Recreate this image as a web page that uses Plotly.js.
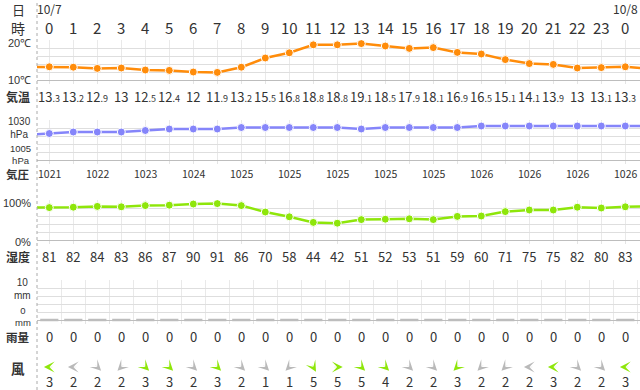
<!DOCTYPE html>
<html><head><meta charset="utf-8">
<script src="https://cdn.plot.ly/plotly-3.0.1.min.js"></script>
<style>html,body{margin:0;padding:0;background:#fff}#chart{width:640px;height:390px}</style>
</head><body><div id="chart"></div>
<script>
// ---- data ----
const dateLabels = ['10/7', '10/8'];
const dateHours = [0, 24];
const hours = [0,1,2,3,4,5,6,7,8,9,10,11,12,13,14,15,16,17,18,19,20,21,22,23,24];
const hourLabels = ['0','1','2','3','4','5','6','7','8','9','10','11','12','13','14','15','16','17','18','19','20','21','22','23','0'];
const edgeHours = [-1, 25];
const temperature = [13.3,13.2,12.9,13,12.5,12.4,12,11.9,13.2,15.5,16.8,18.8,18.8,19.1,18.5,17.9,18.1,16.9,16.5,15.1,14.1,13.9,13,13.1,13.3];
const temperatureEdges = [13.3, 12.8];
const pressure = [1021,1022,1022,1022,1023,1024,1024,1024,1025,1025,1025,1025,1025,1024,1025,1025,1025,1025,1026,1026,1026,1026,1026,1026,1026];
const pressureEdges = [1020, 1026];
const humidity = [81,82,84,83,86,87,90,91,86,70,58,44,42,51,52,53,51,59,60,71,75,75,82,80,83];
const humidityEdges = [81, 84];
const rain = [0,0,0,0,0,0,0,0,0,0,0,0,0,0,0,0,0,0,0,0,0,0,0,0,0];
const windSpeed = [3,2,2,2,3,3,2,3,2,1,1,5,5,5,4,2,2,3,2,2,2,3,2,2,3];
const windDir = [180,180,45,135,45,45,45,45,45,45,135,60,0,45,45,45,45,135,135,135,180,180,45,45,180];

// ---- styling / layout helpers ----
const H = 390, L = 37, PW = 640 - L;
const py = p => (H - p) / H;
const px = p => (p - L) / PW;
const dom = (top, bottom) => [(H - bottom) / H, (H - top) / H];
const FONT = 'Noto Sans CJK JP, Noto Sans, sans-serif';
const FONT_S = 'Liberation Sans, Arial, sans-serif';
const TXT = '#333';
const C_T = '#ff8c0a', C_P = '#8585fa', C_H = '#8ee60a', C_W = '#8ee60a', C_G = '#b9b9b9';

const full = (edges, arr) => [edges[0], ...arr, edges[1]];
const xs = full(edgeHours, hours);

function lineTrace(y, xa, ya, color) {
  return {x: xs, y: y, xaxis: xa, yaxis: ya, mode: 'lines+markers', type: 'scatter',
    line: {color: color, width: 2.5}, marker: {size: 8, color: color, line: {color: '#fff', width: 1}},
    hoverinfo: 'skip'};
}
const traces = [
  lineTrace(full(temperatureEdges, temperature), 'x', 'y', C_T),
  lineTrace(full(pressureEdges, pressure), 'x2', 'y2', C_P),
  lineTrace(full(humidityEdges, humidity), 'x3', 'y3', C_H),
  {x: hours, y: rain, xaxis: 'x4', yaxis: 'y4', mode: 'markers', type: 'scatter', cliponaxis: false,
   marker: {symbol: 'line-ew-open', size: 13, color: '#bdbdbd', line: {color: '#bdbdbd', width: 2.5}}, hoverinfo: 'skip'}
];

const xr = [-0.5125, 24.6125];
function xax(anchor, tick0) {
  return {range: xr, anchor: anchor, showgrid: true, gridcolor: '#e9e9e9', gridwidth: 1,
    tick0: tick0, dtick: 1, ticks: 'outside', ticklen: 3, tickcolor: '#e4e4e4',
    showticklabels: false, showline: true, linecolor: '#bdbdbd', linewidth: 1, zeroline: false, fixedrange: true};
}
function yax(domain, range, tick0, dtick) {
  return {domain: domain, range: range, tick0: tick0, dtick: dtick, showgrid: true, gridcolor: '#dedede',
    showticklabels: false, zeroline: false, showline: false, ticks: '', fixedrange: true};
}

const ann = [];
function A(x, y, text, size, opts) {
  ann.push(Object.assign({x: x, y: y, xref: 'x', yref: 'paper', text: text, showarrow: false,
    xanchor: 'center', yanchor: 'middle', font: {family: FONT, size: size, color: TXT}}, opts || {}));
}
function LA(pxr, pyv, text, size, anchor, opts) {
  A(px(pxr), py(pyv), text, size, Object.assign({xref: 'paper', xanchor: anchor || 'right'}, opts || {}));
}
function LS(pyv, text, size) {
  LA(33, pyv, text, size, 'right', {font: {family: FONT_S, size: size, color: TXT}});
}
function tempText(v) {
  if (Number.isInteger(v)) return String(v);
  const p = v.toFixed(1).split('.');
  return p[0] + "<span style='font-size:9px'>." + p[1] + '</span>';
}

const AS = 1.8;       // arrow head scale (arrowwidth * arrowsize)
const AW = 0.2;
dateHours.forEach((h, i) => A(h, py(8), dateLabels[i], 12));
hours.forEach((h, i) => {
  A(h, py(28), hourLabels[i], 15);
  A(h, py(96), tempText(temperature[i]), 13);
  if (h % 2 === 0) A(h, py(173), String(pressure[i]), 10.5);
  A(h, py(256), String(humidity[i]), 13);
  A(h, py(336), String(rain[i]), 13);
  const t = windDir[i] * Math.PI / 180, c = Math.cos(t), s = Math.sin(t);
  ann.push({x: h, y: py(367), xref: 'x', yref: 'paper', showarrow: true, text: ' ',
    font: {size: 1}, borderpad: 0, arrowhead: 3, arrowsize: AS / AW, arrowwidth: AW,
    arrowcolor: windSpeed[i] >= 3 ? C_W : C_G, standoff: 0,
    ax: -9 * c, ay: -9 * s, xshift: 3 * AS * c, yshift: -3 * AS * s});
  A(h, py(381), String(windSpeed[i]), 13);
});

// left column labels
LA(18, 9, '日', 13, 'center');
LA(18, 28, '時', 14, 'center');
LA(18, 96, '<b>気温</b>', 12, 'center');
LA(18, 174, '<b>気圧</b>', 11.5, 'center');
LA(18, 256, '<b>湿度</b>', 12, 'center');
LA(18, 337, '<b>雨量</b>', 11.5, 'center');
LA(18, 368, '<b>風</b>', 13.5, 'center');
LS(43, '20℃', 11);
LS(80, '10℃', 11);
LS(128, '1030<br>hPa', 10);
LS(154, '1005<br>hPa', 9.5);
LS(203, '100%', 11);
LS(241.5, '0%', 11);
LS(289, '10<br>mm', 10);
LS(316.5, '0<br>mm', 9.5);

const layout = {
  width: 640, height: 390, margin: {l: L, r: 0, t: 0, b: 0},
  paper_bgcolor: '#fff', plot_bgcolor: 'rgba(0,0,0,0)', showlegend: false, hovermode: false,
  xaxis: xax('y', 0), xaxis2: xax('y2', 0), xaxis3: xax('y3', 0), xaxis4: xax('y4', -0.5),
  yaxis: yax(dom(40, 80), [10, 20], 10, 2),
  yaxis2: yax(dom(120, 160), [1030 - 80 / 3, 1030], 1030, 16 / 3),
  yaxis3: yax(dom(200, 240), [0, 100], 0, 20),
  yaxis4: yax(dom(280, 320), [0, 10], 0, 2),
  annotations: ann,
  shapes: [{type: 'line', xref: 'paper', yref: 'paper', x0: 0, x1: 0, y0: 0, y1: 1,
    line: {color: '#aaa', width: 1, dash: 'dot'}}]
};
Plotly.newPlot('chart', traces, layout, {staticPlot: true, displayModeBar: false});
</script></body></html>
